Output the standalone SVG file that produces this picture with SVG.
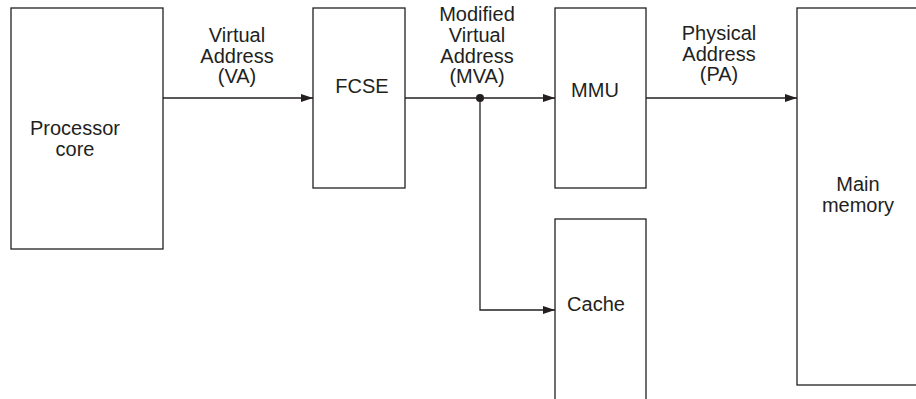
<svg xmlns="http://www.w3.org/2000/svg" width="916" height="399" viewBox="0 0 916 399">
<defs>
<style>
.box{fill:#fff;stroke:#231f20;stroke-width:1.3}
.ln{fill:none;stroke:#231f20;stroke-width:1.3}
text{font-family:"Liberation Sans",Arial,sans-serif;font-size:20px;fill:#231f20;text-anchor:middle}
</style>
<marker id="ah" markerWidth="12" markerHeight="8" refX="12" refY="4" orient="auto" markerUnits="userSpaceOnUse">
<path d="M0,0 L12,4 L0,8 Z" fill="#231f20"/>
</marker>
</defs>
<rect width="916" height="399" fill="#fff"/>
<g id="connectors">
<line class="ln" x1="163" y1="98" x2="313" y2="98" marker-end="url(#ah)"/>
<line class="ln" x1="405" y1="98" x2="555" y2="98" marker-end="url(#ah)"/>
<polyline class="ln" points="480,98 480,310 555,310" marker-end="url(#ah)"/>
<circle cx="480" cy="98" r="4" fill="#231f20"/>
<line class="ln" x1="646" y1="98" x2="797" y2="98" marker-end="url(#ah)"/>
<text x="237" y="42">Virtual<tspan x="237" dy="20.5">Address</tspan><tspan x="237" dy="20">(VA)</tspan></text>
<text x="477" y="21">Modified<tspan x="477" dy="21">Virtual</tspan><tspan x="477" dy="20.5">Address</tspan><tspan x="477" dy="20">(MVA)</tspan></text>
<text x="719" y="40">Physical<tspan x="719" dy="20.5">Address</tspan><tspan x="719" dy="20">(PA)</tspan></text>
</g>
<g id="processor">
<rect class="box" x="11" y="8" width="152" height="241"/>
<text x="75" y="135">Processor<tspan x="75" dy="20.5">core</tspan></text>
</g>
<g id="fcse">
<rect class="box" x="313" y="8" width="92" height="180"/>
<text x="362" y="93">FCSE</text>
</g>
<g id="mmu">
<rect class="box" x="555" y="8" width="91" height="180"/>
<text x="595" y="97">MMU</text>
</g>
<g id="cache">
<rect class="box" x="555" y="219" width="91" height="200"/>
<text x="596" y="311">Cache</text>
</g>
<g id="main">
<rect class="box" x="797" y="8" width="140" height="377"/>
<text x="858" y="191">Main<tspan x="858" dy="21">memory</tspan></text>
</g>
</svg>
